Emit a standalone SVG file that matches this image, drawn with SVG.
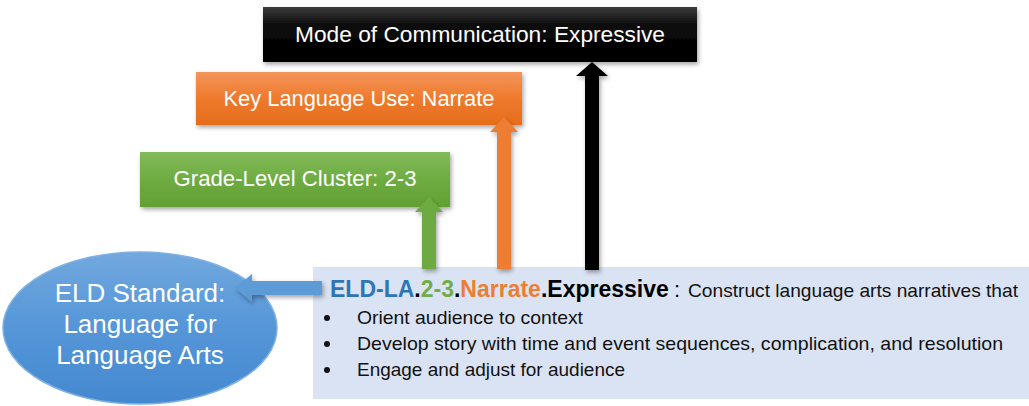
<svg xmlns="http://www.w3.org/2000/svg" width="1029" height="406" viewBox="0 0 1029 406">
<defs>
<linearGradient id="gBlack" x1="0" y1="0" x2="0" y2="1"><stop offset="0" stop-color="#3c3c3c"/><stop offset="0.35" stop-color="#0a0a0a"/><stop offset="1" stop-color="#000"/></linearGradient>
<linearGradient id="gOrange" x1="0" y1="0" x2="0" y2="1"><stop offset="0" stop-color="#f3955a"/><stop offset="0.5" stop-color="#ee7a2c"/><stop offset="1" stop-color="#e56d1c"/></linearGradient>
<linearGradient id="gGreen" x1="0" y1="0" x2="0" y2="1"><stop offset="0" stop-color="#82bb5a"/><stop offset="0.5" stop-color="#6eac42"/><stop offset="1" stop-color="#62a035"/></linearGradient>
<linearGradient id="gBlue" x1="0" y1="0" x2="0" y2="1"><stop offset="0" stop-color="#72a8de"/><stop offset="0.5" stop-color="#5596d8"/><stop offset="1" stop-color="#4488cf"/></linearGradient>
<filter id="sh" x="-10%" y="-10%" width="125%" height="140%"><feDropShadow dx="1.5" dy="2.5" stdDeviation="2" flood-color="#000" flood-opacity="0.35"/></filter>
<style>
.lbl{font-family:"Liberation Sans",Arial,sans-serif;font-size:22px;fill:#fff;text-anchor:middle}
.ell{font-family:"Liberation Sans",Arial,sans-serif;font-size:26px;fill:#fff;text-anchor:middle}
.body{font-family:"Liberation Sans",Arial,sans-serif;font-size:18.5px;fill:#111}
.head{font-family:"Liberation Sans",Arial,sans-serif;font-size:23px;font-weight:bold}
.dot{fill:#111}
</style>
</defs>
<rect x="313" y="267" width="716" height="132" fill="#dae3f3"/>
<g id="mode">
<rect x="263" y="7" width="434" height="55" fill="url(#gBlack)" filter="url(#sh)"/>
<text class="lbl" x="480" y="42" textLength="370" lengthAdjust="spacingAndGlyphs">Mode of Communication: Expressive</text>
</g>
<g id="keyuse">
<rect x="196" y="72" width="326" height="53" fill="url(#gOrange)" filter="url(#sh)"/>
<text class="lbl" x="359" y="106" textLength="271" lengthAdjust="spacingAndGlyphs">Key Language Use: Narrate</text>
</g>
<g id="grade">
<rect x="140" y="152" width="310" height="55" fill="url(#gGreen)" filter="url(#sh)"/>
<text class="lbl" x="295" y="186" textLength="243" lengthAdjust="spacingAndGlyphs">Grade-Level Cluster: 2-3</text>
</g>
<g id="standard">
<ellipse cx="140" cy="328" rx="137" ry="76" fill="url(#gBlue)" stroke="#7eb0e3" stroke-width="1.5"/>
<text class="ell" x="140" y="302">ELD Standard:</text>
<text class="ell" x="140" y="333">Language for</text>
<text class="ell" x="140" y="364">Language Arts</text>
</g>
<g id="connectors" filter="url(#sh)">
<polygon points="422,269 422,212 415,212 429,197 443,212 436,212 436,269" fill="#6dab43"/>
<polygon points="497,269 497,132 490,132 504,117 518,132 511,132 511,269" fill="#ed7d31"/>
<polygon points="585,270 585,76 576,76 592,62 608,76 599,76 599,270" fill="#000"/>
<polygon points="322,281 252,281 252,274 235,288 252,302 252,295 322,295" fill="#5b9bd5"/>
</g>
<g id="code">
<text class="head" x="330" y="297"><tspan fill="#2e75b6">ELD-LA</tspan><tspan fill="#000">.</tspan><tspan fill="#70ad47">2-3</tspan><tspan fill="#000">.</tspan><tspan fill="#ed7d31">Narrate</tspan><tspan fill="#000">.Expressive</tspan></text>
<text x="674" y="297" font-family="Liberation Sans, Arial, sans-serif" font-size="22" fill="#000">:</text>
<text class="body" x="688" y="297" textLength="330" lengthAdjust="spacingAndGlyphs">Construct language arts narratives that</text>
<circle class="dot" cx="327" cy="318" r="3"/>
<text class="body" x="357" y="324" textLength="226" lengthAdjust="spacingAndGlyphs">Orient audience to context</text>
<circle class="dot" cx="327" cy="344" r="3"/>
<text class="body" x="357" y="350" textLength="646" lengthAdjust="spacingAndGlyphs">Develop story with time and event sequences, complication, and resolution</text>
<circle class="dot" cx="327" cy="370" r="3"/>
<text class="body" x="357" y="376" textLength="268" lengthAdjust="spacingAndGlyphs">Engage and adjust for audience</text>
</g>
</svg>
